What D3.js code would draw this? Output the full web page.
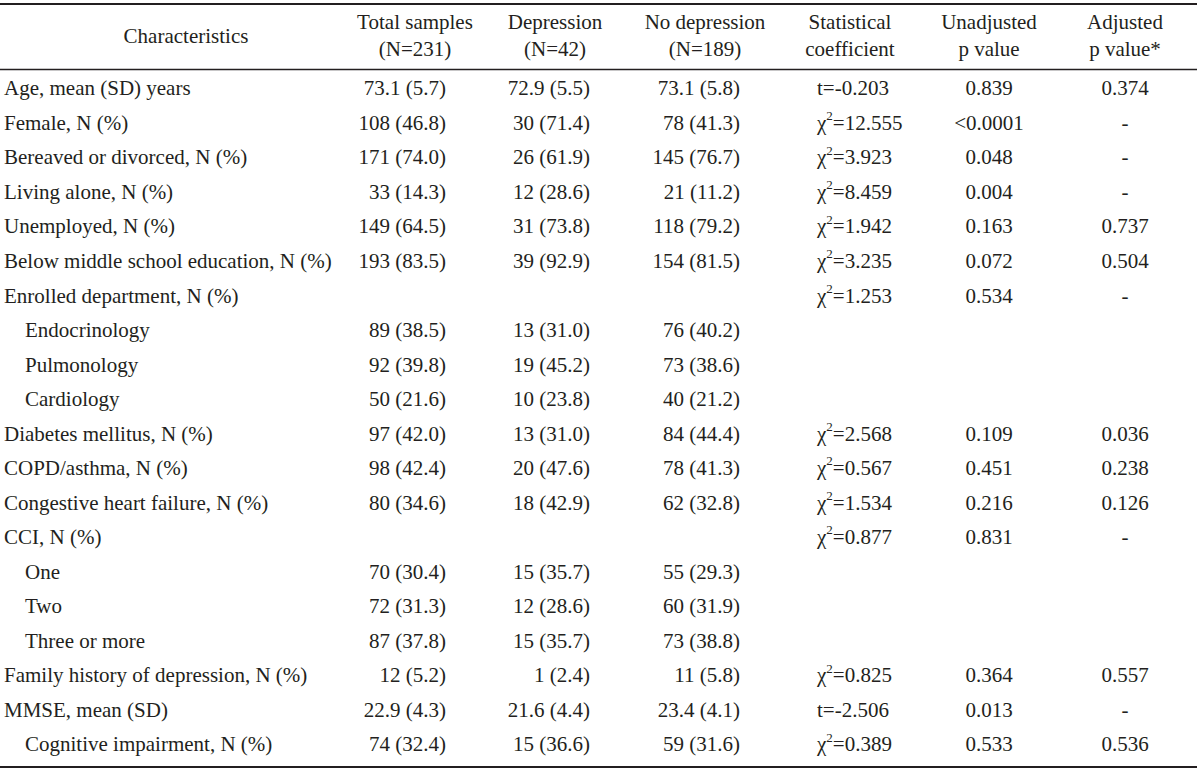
<!DOCTYPE html>
<html>
<head>
<meta charset="utf-8">
<script src="https://cdn.jsdelivr.net/npm/d3@7"></script>
<style>
  html, body { margin: 0; padding: 0; background: #fff; }
  svg text { font-family: "Liberation Serif", "DejaVu Serif", serif; fill: #231f20; }
</style>
</head>
<body>
<svg id="chart" width="1200" height="775"></svg>
<script>
// ---------------- DATA ----------------
const headers = [
  ["Total samples", "(N=231)"],
  ["Depression", "(N=42)"],
  ["No depression", "(N=189)"],
  ["Statistical", "coefficient"],
  ["Unadjusted", "p value"],
  ["Adjusted", "p value*"]
];
const characteristics = [
  "Age, mean (SD) years",
  "Female, N (%)",
  "Bereaved or divorced, N (%)",
  "Living alone, N (%)",
  "Unemployed, N (%)",
  "Below middle school education, N (%)",
  "Enrolled department, N (%)",
  "Endocrinology",
  "Pulmonology",
  "Cardiology",
  "Diabetes mellitus, N (%)",
  "COPD/asthma, N (%)",
  "Congestive heart failure, N (%)",
  "CCI, N (%)",
  "One",
  "Two",
  "Three or more",
  "Family history of depression, N (%)",
  "MMSE, mean (SD)",
  "Cognitive impairment, N (%)"
];
const subItems = ["Endocrinology", "Pulmonology", "Cardiology", "One", "Two", "Three or more", "Cognitive impairment, N (%)"];
const totalSamples = ["73.1 (5.7)","108 (46.8)","171 (74.0)","33 (14.3)","149 (64.5)","193 (83.5)","","89 (38.5)","92 (39.8)","50 (21.6)","97 (42.0)","98 (42.4)","80 (34.6)","","70 (30.4)","72 (31.3)","87 (37.8)","12 (5.2)","22.9 (4.3)","74 (32.4)"];
const depression = ["72.9 (5.5)","30 (71.4)","26 (61.9)","12 (28.6)","31 (73.8)","39 (92.9)","","13 (31.0)","19 (45.2)","10 (23.8)","13 (31.0)","20 (47.6)","18 (42.9)","","15 (35.7)","12 (28.6)","15 (35.7)","1 (2.4)","21.6 (4.4)","15 (36.6)"];
const noDepression = ["73.1 (5.8)","78 (41.3)","145 (76.7)","21 (11.2)","118 (79.2)","154 (81.5)","","76 (40.2)","73 (38.6)","40 (21.2)","84 (44.4)","78 (41.3)","62 (32.8)","","55 (29.3)","60 (31.9)","73 (38.8)","11 (5.8)","23.4 (4.1)","59 (31.6)"];
const statCoef = ["t=-0.203","χ2=12.555","χ2=3.923","χ2=8.459","χ2=1.942","χ2=3.235","χ2=1.253","","","","χ2=2.568","χ2=0.567","χ2=1.534","χ2=0.877","","","","χ2=0.825","t=-2.506","χ2=0.389"];
const unadjustedP = ["0.839","<0.0001","0.048","0.004","0.163","0.072","0.534","","","","0.109","0.451","0.216","0.831","","","","0.364","0.013","0.533"];
const adjustedP = ["0.374","-","-","-","0.737","0.504","-","","","","0.036","0.238","0.126","-","","","","0.557","-","0.536"];

// ---------------- LAYOUT ----------------
const fontSize = 21;
const svg = d3.select("#chart");

const y = d3.scalePoint().domain(characteristics).range([88, 744]);

const columns = [
  { header: headers[0], values: totalSamples, hx: 415, dx: 446, anchor: "end" },
  { header: headers[1], values: depression,   hx: 555, dx: 590, anchor: "end" },
  { header: headers[2], values: noDepression, hx: 705, dx: 740, anchor: "end" },
  { header: headers[3], values: statCoef,     hx: 850, dx: 817, anchor: "start" },
  { header: headers[4], values: unadjustedP,  hx: 989, dx: 989, anchor: "middle" },
  { header: headers[5], values: adjustedP,    hx: 1125, dx: 1125, anchor: "middle" }
];

const rule = (yy, w) => svg.append("line")
  .attr("x1", 0).attr("x2", 1197).attr("y1", yy).attr("y2", yy)
  .attr("stroke", "#231f20").attr("stroke-width", w);
rule(4, 2);
rule(69.5, 1.5);
rule(767, 2);

const hRow1 = 22, hRow2 = 49;
svg.append("text")
  .attr("x", 186).attr("y", (hRow1 + hRow2) / 2).attr("dy", "0.35em")
  .attr("text-anchor", "middle").attr("font-size", fontSize)
  .text("Characteristics");

columns.forEach(c => {
  svg.append("text").attr("x", c.hx).attr("y", hRow1).attr("dy", "0.35em")
    .attr("text-anchor", "middle").attr("font-size", fontSize).text(c.header[0]);
  svg.append("text").attr("x", c.hx).attr("y", hRow2).attr("dy", "0.35em")
    .attr("text-anchor", "middle").attr("font-size", fontSize).text(c.header[1]);
});

svg.selectAll("text.label").data(characteristics).join("text")
  .attr("class", "label")
  .attr("x", d => subItems.includes(d) ? 25 : 4)
  .attr("y", d => y(d)).attr("dy", "0.35em")
  .attr("font-size", fontSize)
  .text(d => d);

columns.forEach(c => {
  const g = svg.append("g");
  characteristics.forEach((label, i) => {
    const v = c.values[i];
    if (!v) return;
    const t = g.append("text")
      .attr("x", c.dx).attr("y", y(label)).attr("dy", "0.35em")
      .attr("text-anchor", c.anchor).attr("font-size", fontSize);
    if (v.startsWith("χ2")) {
      t.append("tspan").text("χ");
      t.append("tspan").attr("font-size", fontSize * 0.62).attr("dy", "-0.75em").text("2");
      t.append("tspan").attr("dy", "0.465em").text(v.slice(2));
    } else {
      t.text(v);
    }
  });
});
</script>
</body>
</html>
